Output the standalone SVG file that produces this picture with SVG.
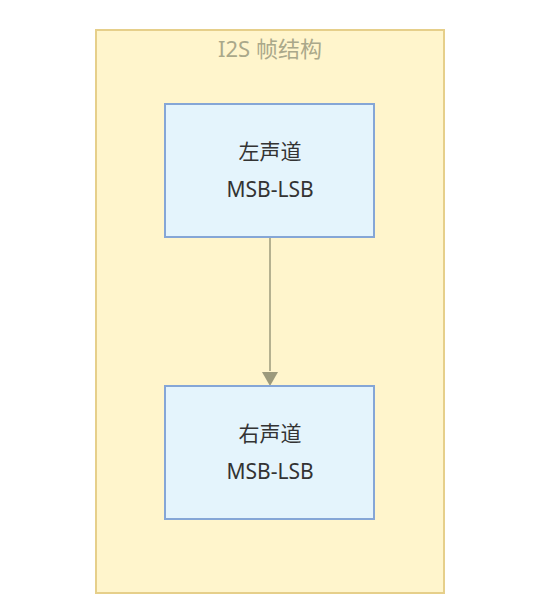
<svg xmlns="http://www.w3.org/2000/svg" width="540" height="598" viewBox="0 0 540 598">
<defs>
<style>
.cluster{fill:#fff5cc;stroke:#e6cf8a;stroke-width:2}
.node rect{fill:#e4f4fc;stroke:#85a6d6;stroke-width:2}
.lbl{font-family:"Noto Sans","Noto Sans CJK SC",sans-serif;font-size:21px;fill:#333333;text-anchor:middle}
.title{font-family:"Noto Sans","Noto Sans CJK SC",sans-serif;font-size:22px;fill:#aaa88a;text-anchor:middle}
.edge{stroke:#9c9a7c;stroke-width:1.5;fill:none}
</style>
</defs>
<rect width="540" height="598" fill="#ffffff"/>
<g id="cluster-i2s">
<rect class="cluster" x="96" y="30" width="348" height="563"/>
<text class="title" x="270" y="57">I2S 帧结构</text>
</g>
<g id="connectors">
<path class="edge" d="M270,237 L270,371"/>
<path d="M262,372 L278,372 L270,386 z" fill="#9c9a7c"/>
</g>
<g id="node-left" class="node">
<rect x="165" y="104" width="209" height="133"/>
<text class="lbl" x="270" y="159">左声道</text>
<text class="lbl" x="270" y="197">MSB-LSB</text>
</g>
<g id="node-right" class="node">
<rect x="165" y="386" width="209" height="133"/>
<text class="lbl" x="270" y="441">右声道</text>
<text class="lbl" x="270" y="479">MSB-LSB</text>
</g>
</svg>
